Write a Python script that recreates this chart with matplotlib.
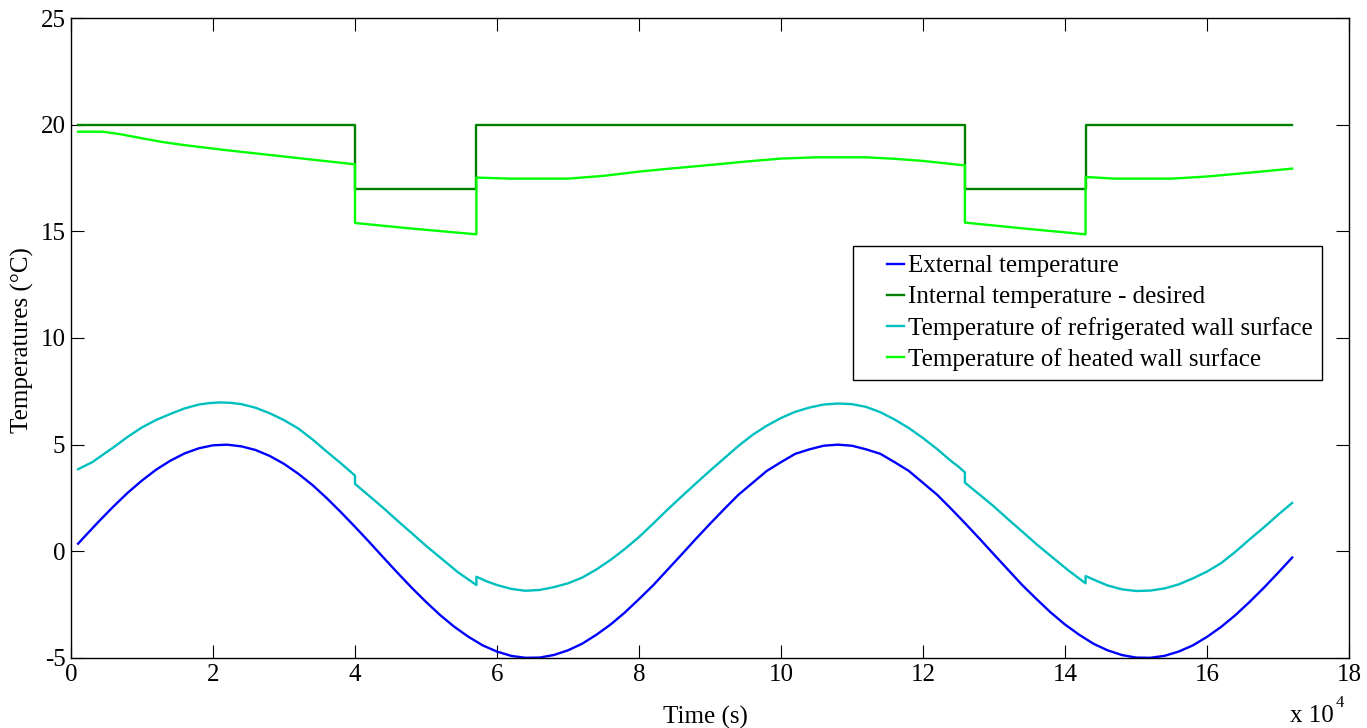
import numpy as np
import matplotlib
matplotlib.use('Agg')
import matplotlib.pyplot as plt
from matplotlib.lines import Line2D
from matplotlib.legend_handler import HandlerLine2D
from matplotlib.ticker import FuncFormatter

# ---------- data (time in s, temperature in degC) ----------
ext_time = [1000] + list(range(2000, 172001, 2000))
ext_temp = [0.36,
            0.72, 1.43, 2.11, 2.75, 3.32,
            3.83, 4.25, 4.59, 4.83, 4.97,
            5.00, 4.92, 4.75, 4.47, 4.10,
            3.64, 3.11, 2.50, 1.84, 1.15,
            0.44, -0.29, -1.01, -1.71, -2.37,
            -2.99, -3.54, -4.01, -4.41, -4.70,
            -4.90, -4.99, -4.98, -4.86, -4.64,
            -4.33, -3.91, -3.43, -2.87, -2.24,
            -1.59, -0.87, -0.15, 0.58, 1.29,
            1.98, 2.65, 3.21, 3.77, 4.18,
            4.57, 4.78, 4.95, 5.00, 4.95,
            4.78, 4.57, 4.18, 3.77, 3.21,
            2.65, 1.98, 1.29, 0.58, -0.15,
            -0.87, -1.59, -2.24, -2.87, -3.43,
            -3.91, -4.33, -4.64, -4.86, -4.98,
            -4.99, -4.90, -4.70, -4.41, -4.01,
            -3.54, -2.99, -2.37, -1.71, -1.01,
            -0.29]

int_time = [1000, 40000, 40000, 57100, 57100, 125900, 125900, 142900, 142900, 172000]
int_temp = [20, 20, 17, 17, 20, 20, 17, 17, 20, 20]

cold_time = [1000, 3000, 4500, 6000, 8000, 10000, 12000, 14000, 16000, 18000,
             19500, 21000, 22500, 24000, 26000, 28000, 30000, 32000, 34000, 36000,
             38000, 40000, 40000, 42000, 44000, 46000, 48000, 50000, 52000, 54500,
             57100, 57100, 58500, 60000, 62000, 64000, 66000, 68000, 70000, 72000,
             74000, 76000, 78000, 80000, 82000, 84000, 86000, 88000, 90000, 92000,
             94000, 96000, 98000, 100000, 102000, 104000, 106000, 108000, 110000, 112000,
             114000, 116000, 118000, 120000, 122000, 124000, 125000, 125900, 125900, 128000,
             130000, 132000, 134000, 136000, 138000, 140500, 142900, 142900, 144500, 146000,
             148000, 150000, 152000, 154000, 156000, 158000, 160000, 162000, 164000, 166000,
             168000, 170000, 171000, 172000]
cold_temp = [3.85, 4.18, 4.53, 4.88, 5.37, 5.81, 6.16, 6.44, 6.70, 6.88,
             6.95, 6.98, 6.96, 6.90, 6.73, 6.47, 6.15, 5.76, 5.25, 4.68,
             4.13, 3.55, 3.16, 2.60, 2.03, 1.43, 0.85, 0.26, -0.29, -0.98,
             -1.58, -1.19, -1.40, -1.58, -1.76, -1.85, -1.81, -1.68, -1.50, -1.23,
             -0.85, -0.40, 0.11, 0.67, 1.30, 1.95, 2.57, 3.18, 3.78, 4.36,
             4.94, 5.46, 5.89, 6.25, 6.54, 6.74, 6.88, 6.93, 6.90, 6.77,
             6.52, 6.18, 5.78, 5.31, 4.79, 4.22, 3.97, 3.70, 3.22, 2.65,
             2.10, 1.50, 0.92, 0.33, -0.22, -0.90, -1.50, -1.16, -1.39, -1.60,
             -1.78, -1.86, -1.84, -1.74, -1.55, -1.27, -0.95, -0.55, -0.02, 0.56,
             1.12, 1.71, 1.99, 2.27]

heat_time = [1000, 4500, 7000, 10000, 13000, 16000, 22000, 28000, 34000, 40000,
             40000, 48000, 57100, 57100, 62000, 70000, 75000, 80000, 85000, 90000,
             95000, 100000, 105000, 112000, 116000, 120000, 125900, 125900, 134000, 142900,
             142900, 147000, 155000, 160000, 165000, 172000]
heat_temp = [19.67, 19.67, 19.55, 19.36, 19.18, 19.04, 18.80, 18.58, 18.36, 18.14,
             15.39, 15.13, 14.86, 17.52, 17.47, 17.47, 17.60, 17.80, 17.96, 18.11,
             18.27, 18.41, 18.47, 18.47, 18.40, 18.30, 18.09, 15.41, 15.14, 14.86,
             17.55, 17.47, 17.47, 17.57, 17.72, 17.94]

labels = ['External temperature',
          'Internal temperature - desired',
          'Temperature of refrigerated wall surface',
          'Temperature of heated wall surface']
colors = ['#0000ff', '#008000', '#00bfbf', '#00ff00']


class ShortHandle(HandlerLine2D):
    """MATLAB-like short legend line: keep only the right part of the handle"""
    def create_artists(self, legend, orig_handle, xdescent, ydescent, width,
                       height, fontsize, trans):
        arts = super().create_artists(legend, orig_handle, xdescent, ydescent,
                                      width, height, fontsize, trans)
        for a in arts:
            xs = np.asarray(a.get_xdata(), dtype=float)
            if len(xs) >= 2:
                x0 = xs[0] + 0.6 * (xs[-1] - xs[0])
                a.set_xdata(np.linspace(x0, xs[-1], len(xs)))
        return arts


plt.rcParams['font.family'] = ['Liberation Serif', 'DejaVu Serif']
plt.rcParams['font.size'] = 18
plt.rcParams['axes.unicode_minus'] = False

W, H = 1367, 728
fig = plt.figure(figsize=(W / 100, H / 100), dpi=100)
ax = fig.add_axes([71 / W, 1 - 658 / H, (1349 - 71) / W, (658 - 18) / H])

series = [(ext_time, ext_temp), (int_time, int_temp),
          (cold_time, cold_temp), (heat_time, heat_temp)]
for (t, v), lab, c in zip(series, labels, colors):
    ax.plot(t, v, color=c, lw=1.7, label=lab)

ax.set_xlim(0, 180000)
ax.set_ylim(-5, 25)
ax.set_xticks(np.arange(0, 180001, 20000))
ax.xaxis.set_major_formatter(FuncFormatter(lambda v, p: f'{v / 1e4:g}'))
ax.set_yticks(np.arange(-5, 26, 5))
ax.tick_params(direction='in', length=9.5, width=0.8, top=True, right=True,
               labelsize=18, pad=4)
for s in ax.spines.values():
    s.set_linewidth(1.0)

fig.text(705 / W, 1 - 717 / H, 'Time (s)', ha='center', va='center', fontsize=18)
fig.text(22 / W, 1 - 340 / H, 'Temperatures (°C)', ha='center', va='center',
         rotation=90, fontsize=18)
fig.text(1334 / W, 1 - 722 / H, 'x 10', ha='right', va='baseline', fontsize=18)
fig.text(1336 / W, 1 - 707 / H, '4', ha='left', va='baseline', fontsize=12)

leg = ax.legend(loc='upper left', bbox_to_anchor=(853 / W, 1 - 246 / H),
                bbox_transform=fig.transFigure, borderaxespad=0, fancybox=False,
                edgecolor='black', framealpha=1, fontsize=18, handlelength=1.7,
                handletextpad=0.15, labelspacing=0.34, borderpad=0.35,
                handler_map={Line2D: ShortHandle()})
leg.get_frame().set_linewidth(1.0)

fig.savefig('out.png', dpi=100)
